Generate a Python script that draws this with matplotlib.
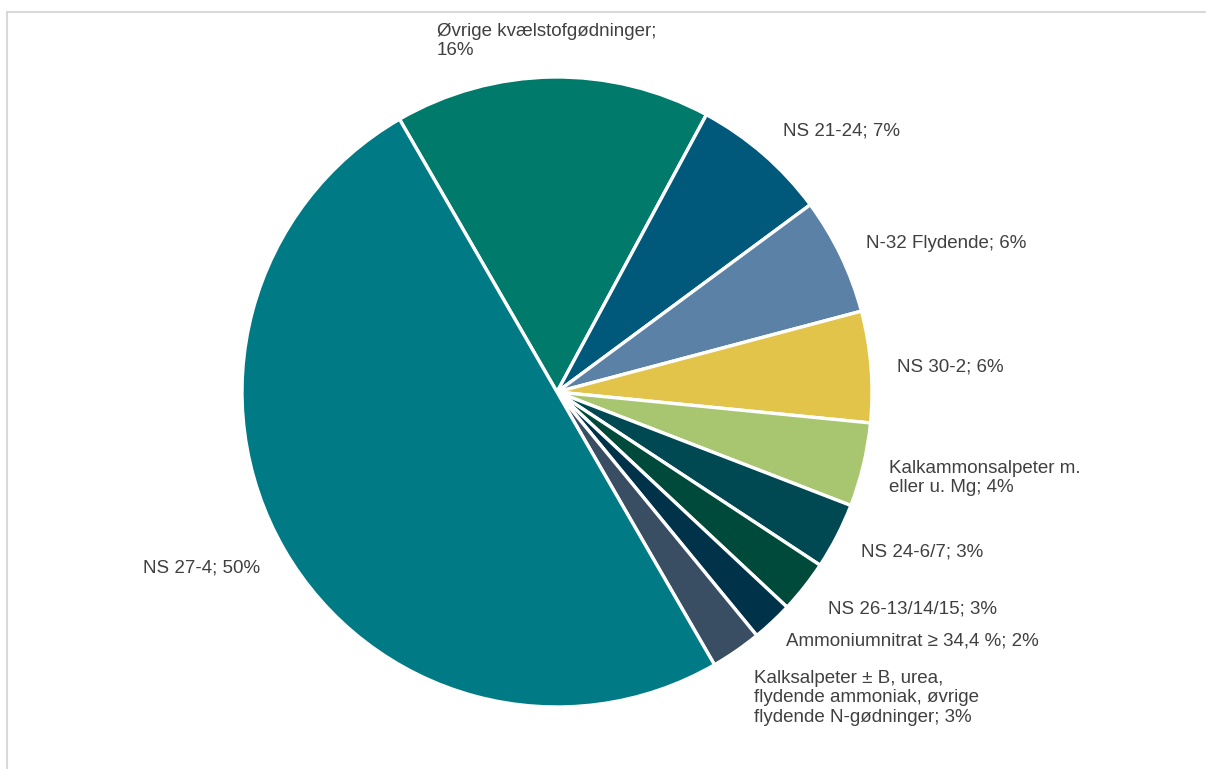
import matplotlib.pyplot as plt
from matplotlib.patches import Rectangle

# data, clockwise from the top-left boundary
labels = [
    "Øvrige kvælstofgødninger;\n16%",
    "NS 21-24; 7%",
    "N-32 Flydende; 6%",
    "NS 30-2; 6%",
    "Kalkammonsalpeter m.\neller u. Mg; 4%",
    "NS 24-6/7; 3%",
    "NS 26-13/14/15; 3%",
    "Ammoniumnitrat ≥ 34,4 %; 2%",
    "Kalksalpeter ± B, urea,\nflydende ammoniak, øvrige\nflydende N-gødninger; 3%",
    "NS 27-4; 50%",
]
shares = [16.2, 7.0, 6.0, 5.7, 4.3, 3.4, 2.7, 2.1, 2.6, 50.0]
colors = ["#007A6A", "#00587A", "#5B82A6", "#E3C44B", "#A8C570",
          "#004852", "#004A3C", "#00324A", "#3A4E63", "#007A85"]

# label anchor (left, vertical centre of the text block) in pixels
label_pos = [(437, 41), (783, 131), (866, 244), (897, 367), (889, 478),
             (861, 552), (828, 609), (786, 641), (754, 698), (143, 568)]

W, H = 1206, 769
cx, cy, r = 557, 392, 315

plt.rcParams["font.family"] = ["Liberation Sans", "DejaVu Sans"]
fig = plt.figure(figsize=(W / 100, H / 100), dpi=100)

# light grey chart-area frame (cropped at right and bottom)
fig.patches.append(Rectangle((7 / W, -0.1), 1.2, (H - 12) / H + 0.1,
                             transform=fig.transFigure, fill=False,
                             edgecolor="#D9D9D9", linewidth=1.5))

ax = fig.add_axes([(cx - r) / W, (H - cy - r) / H, 2 * r / W, 2 * r / H])
ax.pie(shares, colors=colors, startangle=120, counterclock=False, radius=1,
       wedgeprops=dict(edgecolor="white", linewidth=2.4))
ax.set_xlim(-1, 1)
ax.set_ylim(-1, 1)
ax.set_aspect("equal")
ax.axis("off")

for text, (px, py) in zip(labels, label_pos):
    fig.text(px / W, 1 - py / H, text, ha="left", va="center",
             fontsize=13.5, color="#404040", linespacing=1.2)

fig.savefig("out.png", dpi=100)
plt.close(fig)
